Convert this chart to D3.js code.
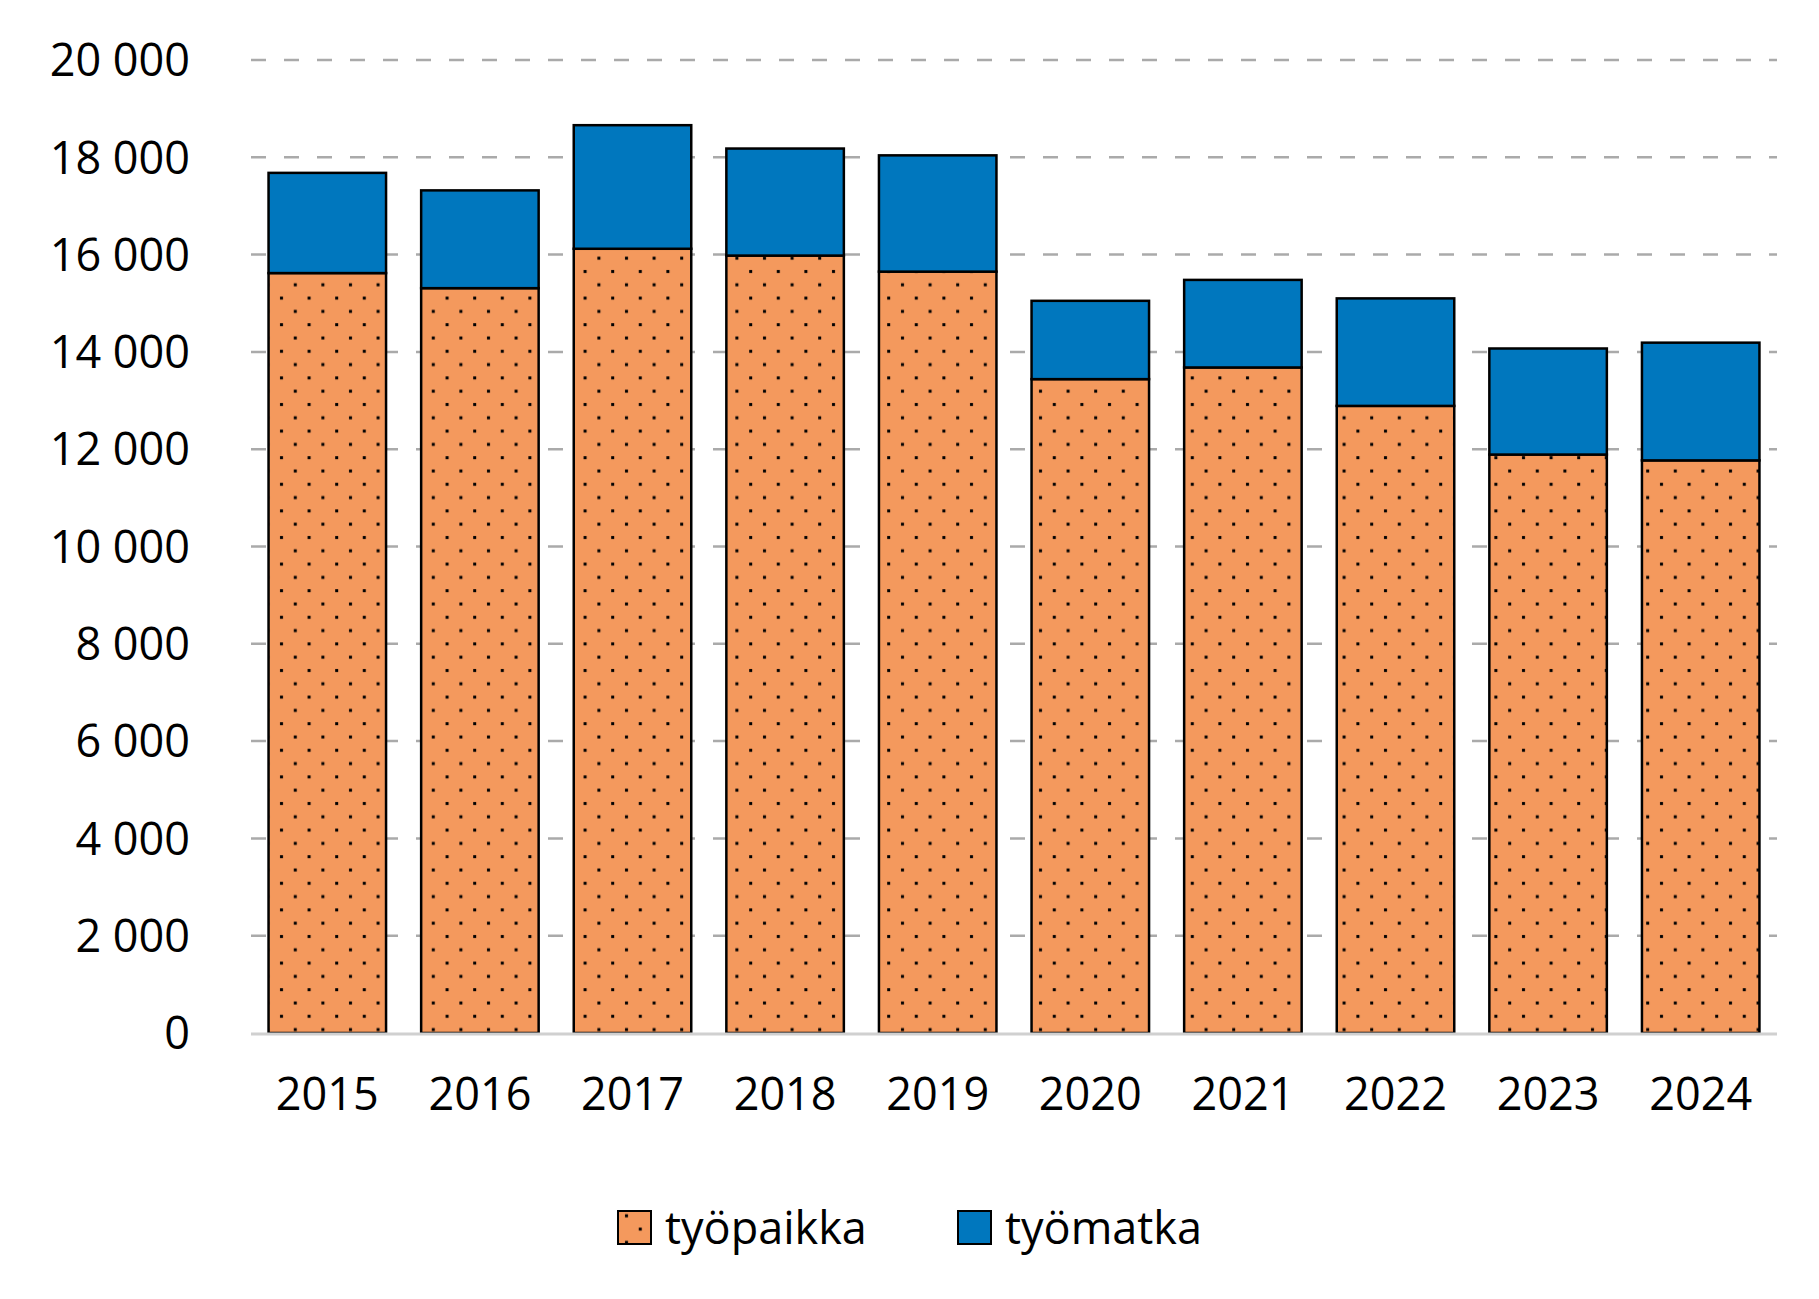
<!DOCTYPE html>
<html><head><meta charset="utf-8">
<script src="https://cdn.jsdelivr.net/npm/d3@7"></script>
<style>body{margin:0;background:#fff}text{font-family:"Open Sans","Noto Sans",sans-serif;fill:#000}</style>
</head><body><svg id="c" width="1819" height="1299"></svg>
<script>
const years = ["2015","2016","2017","2018","2019","2020","2021","2022","2023","2024"];
const tyopaikka = [15620,15310,16120,15980,15650,13440,13680,12890,11890,11770];
const tyomatka = [2060,2010,2540,2200,2390,1610,1800,2210,2180,2420];
const yTicks = [0,2000,4000,6000,8000,10000,12000,14000,16000,18000,20000];
const seriesNames = ["työpaikka","työmatka"];

const svg = d3.select("#c");
const defs = svg.append("defs");
const pat = defs.append("pattern").attr("id","dots").attr("patternUnits","userSpaceOnUse")
  .attr("width",27.6).attr("height",26.6);
pat.append("rect").attr("width",27.6).attr("height",26.6).attr("fill","#f4995d");
pat.append("rect").attr("x",4).attr("y",4).attr("width",3).attr("height",3).attr("fill","#000");
pat.append("rect").attr("x",17.8).attr("y",17.3).attr("width",3).attr("height",3).attr("fill","#000");

const L=251,R=1777,T=60,B=1033;
const x=d3.scaleBand().domain(years).range([L,R]).paddingInner(0.23).paddingOuter(0.115);
const y=d3.scaleLinear().domain([0,20000]).range([B,T]);
const fmt=v=>d3.format(",")(v).replace(/,/g," ");

svg.append("g").selectAll("line").data(yTicks.filter(d=>d>0)).join("line")
  .attr("x1",L).attr("x2",R).attr("y1",d=>y(d)).attr("y2",d=>y(d))
  .attr("stroke","#aaa").attr("stroke-width",2.5).attr("stroke-dasharray","15 18");

const yAx=svg.append("g").attr("transform",`translate(${L-58},0)`)
  .call(d3.axisLeft(y).tickValues(yTicks).tickFormat(fmt).tickSize(0));
yAx.select(".domain").remove();
yAx.selectAll("text").style("font-size","45px").attr("dy","0.35em");

const stack=years.map((yr,i)=>({yr,a:tyopaikka[i],b:tyomatka[i]}));
svg.append("g").selectAll("rect").data(stack).join("rect")
  .attr("x",d=>x(d.yr)).attr("width",x.bandwidth())
  .attr("y",d=>y(d.a)).attr("height",d=>B-y(d.a))
  .attr("fill","url(#dots)").attr("stroke","#000").attr("stroke-width",2.5);
svg.append("g").selectAll("rect").data(stack).join("rect")
  .attr("x",d=>x(d.yr)).attr("width",x.bandwidth())
  .attr("y",d=>y(d.a+d.b)).attr("height",d=>y(d.a)-y(d.a+d.b))
  .attr("fill","#0077be").attr("stroke","#000").attr("stroke-width",2.5);

svg.append("line").attr("x1",L).attr("x2",R).attr("y1",B+1).attr("y2",B+1)
  .attr("stroke","#d0d0d0").attr("stroke-width",3);

const xAx=svg.append("g").attr("transform",`translate(0,${B+16})`)
  .call(d3.axisBottom(x).tickSize(0));
xAx.select(".domain").remove();
xAx.selectAll("text").style("font-size","45px").attr("dy","1.3em");

const leg=[{n:seriesNames[0],f:"url(#dots)",sx:618,tx:665},{n:seriesNames[1],f:"#0077be",sx:958,tx:1005}];
const lg=svg.append("g");
leg.forEach(d=>{
  lg.append("rect").attr("x",d.sx).attr("y",1211).attr("width",33).attr("height",33)
    .attr("fill",d.f).attr("stroke","#000").attr("stroke-width",2);
  lg.append("text").attr("x",d.tx).attr("y",1228).attr("dy","0.35em").style("font-size","45px").text(d.n);
});
</script></body></html>
